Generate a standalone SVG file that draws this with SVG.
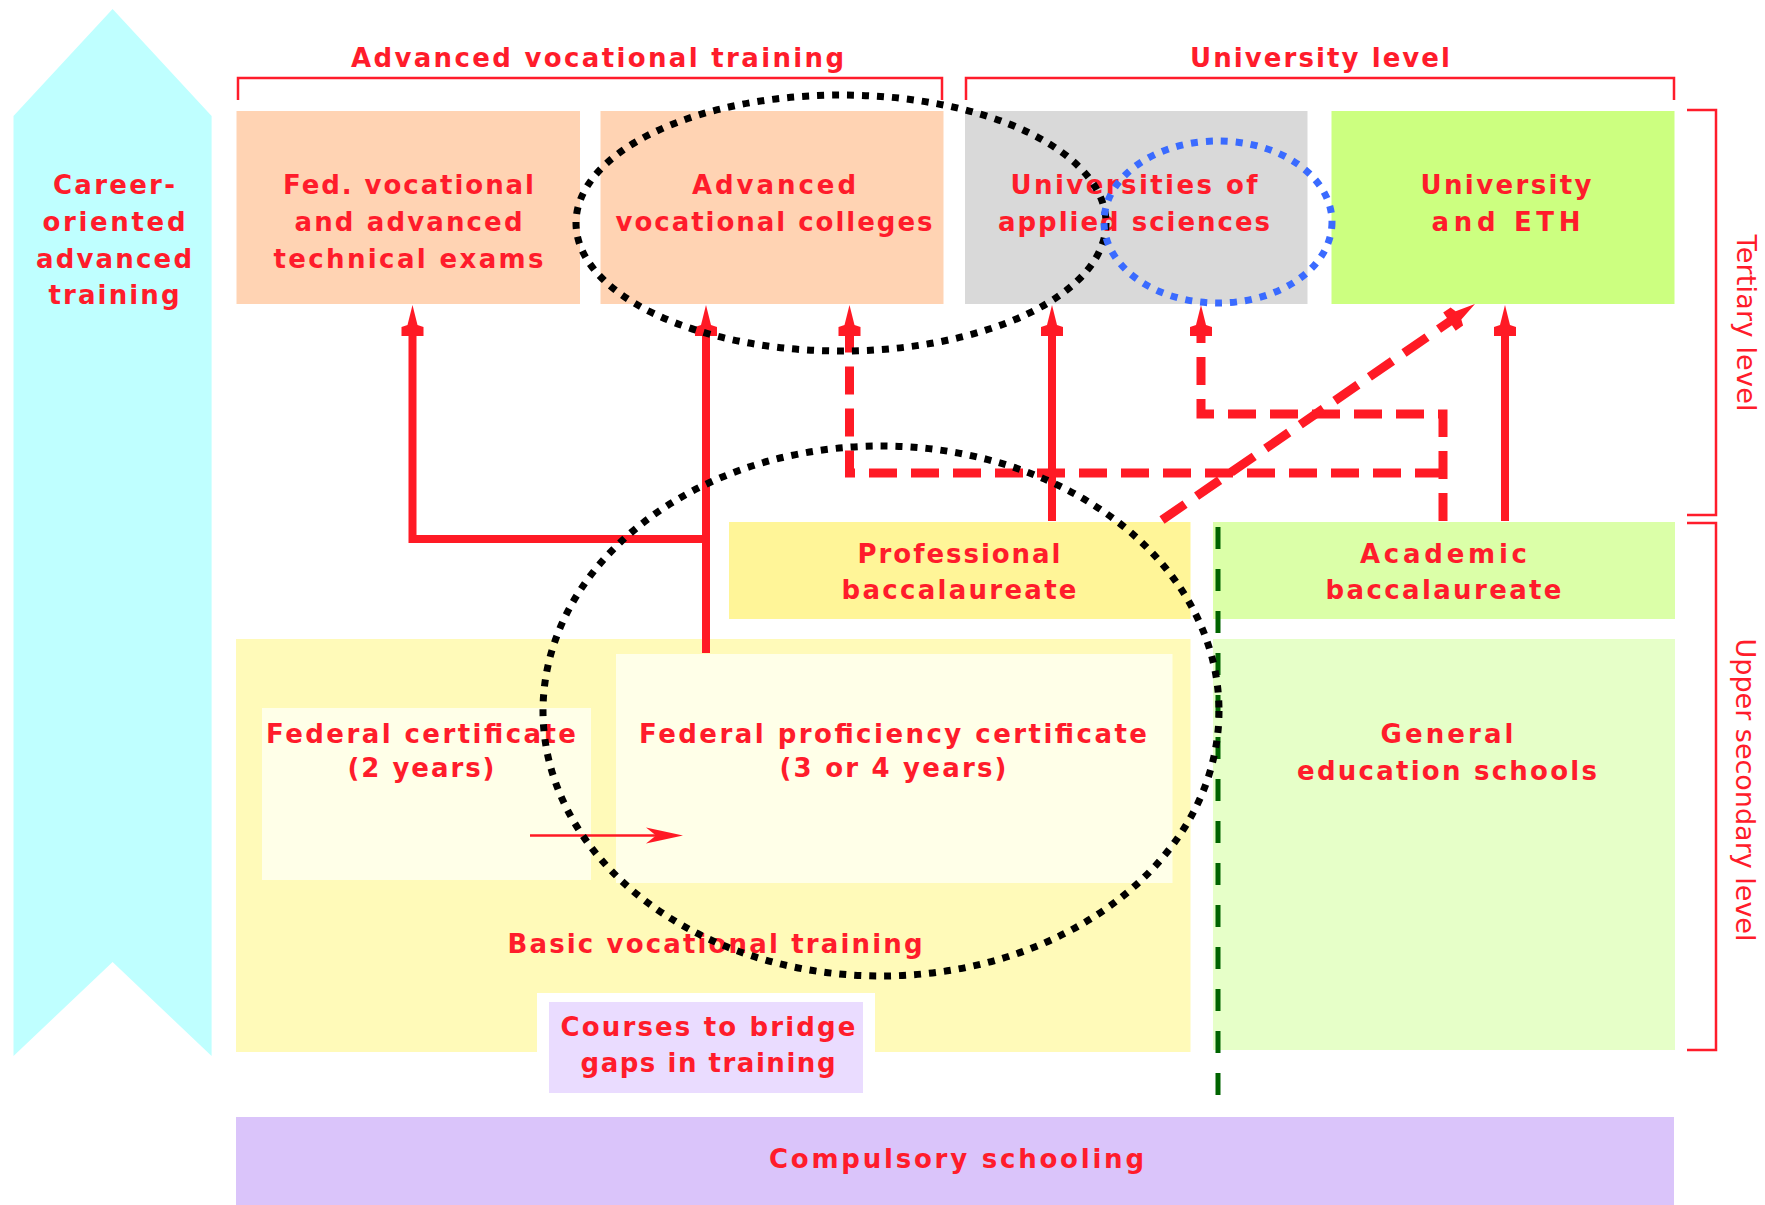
<svg xmlns="http://www.w3.org/2000/svg" width="1765" height="1205" viewBox="0 0 1765 1205">
<style>
.t{font-family:"DejaVu Sans","Liberation Sans",sans-serif;font-weight:bold;font-size:26px;fill:#FF1C2B;text-anchor:middle}
.h{font-size:26px}
.lv{font-family:"DejaVu Sans","Liberation Sans",sans-serif;font-weight:normal;font-size:27px;fill:#FF1C2B;text-anchor:middle}
.br{fill:none;stroke:#FF1C2B;stroke-width:2.5}
.sol{fill:none;stroke:#FF1A25;stroke-width:8}
.dsh{fill:none;stroke:#FF1A25;stroke-width:9;stroke-dasharray:28 14}
.dot{fill:none;stroke:#000;stroke-width:7;stroke-dasharray:7 8}
.bdot{fill:none;stroke:#3A6BFF;stroke-width:7;stroke-dasharray:7 8}
</style>
<defs>
<marker id="ah" markerUnits="userSpaceOnUse" markerWidth="34" markerHeight="24" viewBox="0 -12 32 24" refX="11" refY="0" orient="auto" overflow="visible">
<path d="M0,-11 L9,-11 L11,-5 L31,0 L11,5 L9,11 L0,11 Z" fill="#FF1A25"/>
</marker>
</defs>
<rect width="1765" height="1205" fill="#FFFFFF"/>

<g id="career">
<polygon points="13.5,116 112.6,9 211.6,116 211.6,1056 112.6,962 13.5,1056" fill="#BFFFFF"/>
<text class="t" x="114" y="194" textLength="122">Career-</text>
<text class="t" x="114" y="231" textLength="143">oriented</text>
<text class="t" x="114" y="268" textLength="156">advanced</text>
<text class="t" x="114" y="304" textLength="131">training</text>
</g>

<g id="brackets">
<path class="br" d="M238,100 V78 H942 V100"/>
<path class="br" d="M966,100 V78 H1674 V100"/>
<path class="br" d="M1687,110 H1716 V515 H1687"/>
<path class="br" d="M1687,523 H1716 V1050 H1687"/>
<text class="t h" x="597.5" y="67" textLength="493">Advanced vocational training</text>
<text class="t h" x="1320" y="67" textLength="260">University level</text>
<text class="lv" transform="translate(1737,323) rotate(90)" textLength="177">Tertiary level</text>
<text class="lv" transform="translate(1736,790) rotate(90)" textLength="303">Upper secondary level</text>
</g>

<g id="fedvoc">
<rect x="236.5" y="111" width="343.5" height="193" fill="#FFD3B3"/>
<text class="t" x="408.5" y="194" textLength="251">Fed. vocational</text>
<text class="t" x="408.5" y="231" textLength="228">and advanced</text>
<text class="t" x="408.5" y="268" textLength="270">technical exams</text>
</g>

<g id="advcolleges">
<rect x="600.5" y="111" width="343" height="193" fill="#FFD3B3"/>
<text class="t" x="774" y="194" textLength="164">Advanced</text>
<text class="t" x="774" y="231" textLength="317">vocational colleges</text>
</g>

<g id="uas">
<rect x="965" y="111" width="342.5" height="193" fill="#D9D9D9"/>
<text class="t" x="1134" y="194" textLength="247">Universities of</text>
<text class="t" x="1134" y="231" textLength="272">applied sciences</text>
</g>

<g id="uni">
<rect x="1331.5" y="111" width="343" height="193" fill="#CCFF80"/>
<text class="t" x="1506" y="194" textLength="171">University</text>
<text class="t" x="1506" y="231" textLength="149">and ETH</text>
</g>

<g id="profbacc">
<rect x="729" y="522" width="461.5" height="97" fill="#FFF598"/>
<text class="t" x="959" y="563" textLength="203">Professional</text>
<text class="t" x="959" y="599" textLength="235">baccalaureate</text>
</g>

<g id="acadbacc">
<rect x="1213" y="522" width="462" height="97" fill="#DBFFA8"/>
<text class="t" x="1443.5" y="563" textLength="167">Academic</text>
<text class="t" x="1443.5" y="599" textLength="236">baccalaureate</text>
</g>

<g id="basicvoc">
<rect x="236" y="639" width="954.5" height="413" fill="#FFFAB9"/>
<text class="t" x="715" y="953" textLength="415">Basic vocational training</text>
</g>

<g id="fedcert">
<rect x="262" y="708" width="329" height="172" fill="#FFFFE8"/>
<text class="t" x="421" y="743" textLength="310">Federal certificate</text>
<text class="t" x="421" y="777" textLength="147">(2 years)</text>
</g>

<g id="fedprof">
<rect x="616" y="654" width="556.5" height="229" fill="#FFFFE8"/>
<text class="t" x="893" y="743" textLength="508">Federal proficiency certificate</text>
<text class="t" x="893" y="777" textLength="227">(3 or 4 years)</text>
</g>

<g id="general">
<rect x="1213" y="639" width="462" height="411" fill="#E6FFC8"/>
<text class="t" x="1447" y="743" textLength="133">General</text>
<text class="t" x="1447" y="780" textLength="300">education schools</text>
</g>

<g id="courses">
<rect x="537" y="993" width="338" height="60" fill="#FFFFFF"/>
<rect x="549" y="1002" width="314" height="91" fill="#EADCFF"/>
<text class="t" x="708" y="1036" textLength="295">Courses to bridge</text>
<text class="t" x="708" y="1072" textLength="255">gaps in training</text>
</g>

<g id="compulsory">
<rect x="236" y="1117" width="1438" height="88" fill="#DAC4FA"/>
<text class="t" x="956.5" y="1168" textLength="375">Compulsory schooling</text>
</g>

<g id="connectors">
<line x1="1218" y1="527" x2="1218" y2="1097" stroke="#006400" stroke-width="5" stroke-dasharray="22 20"/>
<path class="sol" d="M706,653 V325" marker-end="url(#ah)"/>
<path class="sol" d="M706,539 H412.5 V325" marker-end="url(#ah)"/>
<path class="sol" d="M1052,521 V325" marker-end="url(#ah)"/>
<path class="sol" d="M1505,521 V325" marker-end="url(#ah)"/>
<path class="dsh" d="M1443,521 V414 H1201 V325" marker-end="url(#ah)"/>
<path class="dsh" d="M1443,473 H849.5 V325" marker-end="url(#ah)"/>
<path class="dsh" d="M1162,520 L1458.5,315.4" marker-end="url(#ah)"/>
<line x1="530" y1="835.5" x2="660" y2="835.5" stroke="#FF1A25" stroke-width="2.5"/>
<path d="M683,835.5 L646,827.5 L656,835.5 L646,843.5 Z" fill="#FF1A25"/>
</g>

<g id="highlights">
<ellipse class="dot" cx="841" cy="223" rx="265" ry="128"/>
<ellipse class="dot" cx="881" cy="711" rx="338" ry="265"/>
<ellipse class="bdot" cx="1218" cy="222" rx="114" ry="81"/>
</g>
</svg>
